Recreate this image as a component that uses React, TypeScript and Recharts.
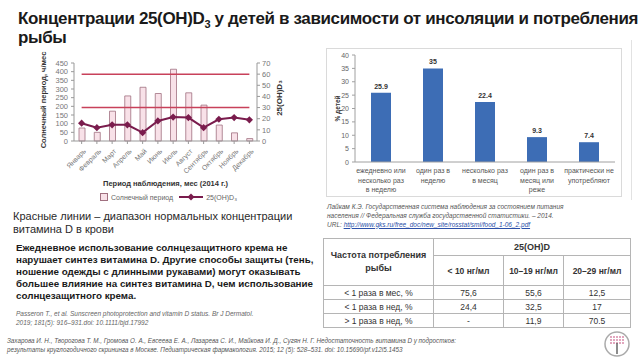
import {
  ComposedChart, Bar, Line, XAxis, YAxis, ReferenceLine,
} from 'recharts'

// Left chart: sunshine hours vs 25(OH)D3 by month (2014)
const months = ['Январь', 'Февраль', 'Март', 'Апрель', 'Май', 'Июнь', 'Июль', 'Август', 'Сентябрь', 'Октябрь', 'Ноябрь', 'Декабрь']
const sunHours = [75, 50, 172, 260, 310, 274, 414, 278, 207, 92, 47, 14]
const vitD = [16, 12, 14.5, 14.5, 7.5, 18, 21.5, 21, 12, 19.5, 21, 19]
const normLimits = [30, 60]
const sunTicks = [0, 50, 100, 150, 200, 250, 300, 350, 400, 450]
const vitTicks = [0, 10, 20, 30, 40, 50, 60, 70]

// Right chart: fish consumption frequency, % of children
const fishCats = [
  'ежедневно или\nнесколько раз\nв неделю',
  'один раз в\nнеделю',
  'несколько раз\nв месяц',
  'один раз в\nмесяц или\nреже',
  'практически не\nупотребляют',
]
const fishPct = [25.9, 35, 22.4, 9.3, 7.4]
const pctTicks = [0, 5, 10, 15, 20, 25, 30, 35, 40]

// Table
const tableCols = ['< 10 нг/мл', '10–19 нг/мл', '20–29 нг/мл']
const tableRows = ['< 1 раза в мес, %', '< 1 раза в нед, %', '> 1 раза в нед, %']
const tableVals = [
  ['75,6', '55,6', '12,5'],
  ['24,4', '32,5', '17'],
  ['-', '11,9', '70.5'],
]

const monthData = months.map((m, i) => ({ m, sun: sunHours[i], vit: vitD[i] }))
const fishData = fishCats.map((c, i) => ({ c, v: fishPct[i] }))

const LINE_COLOR = '#7a1c4d'
const NORM_COLOR = '#c8415a'
const BAR_BLUE = '#3d6db5'
const PCT_AXIS_W = 29

const num = (v: any, d: number) => (typeof v === 'number' && isFinite(v) ? v : d)

const Diamond = (props: any) => {
  const { cx, cy } = props
  if (cx == null || cy == null) return null
  const r = 3.6
  return <polygon points={`${cx},${cy - r} ${cx + r},${cy} ${cx},${cy + r} ${cx - r},${cy}`} fill={LINE_COLOR} />
}

const MonthTick = (props: any) => {
  const { x, y, payload } = props
  return (
    <text x={x + 3} y={y + 4} transform={`rotate(-45, ${x + 3}, ${y + 4})`} textAnchor="end"
      fontSize={7} fill="#777" dominantBaseline="central">
      {payload.value}
    </text>
  )
}

const FishTick = (props: any) => {
  const { x, y, payload } = props
  const lines = String(payload.value).split('\n')
  return (
    <text x={x} y={y + 9} textAnchor="middle" fontSize={7} fill="#555">
      {lines.map((l, i) => (
        <tspan key={i} x={x} dy={i === 0 ? 0 : 9.6}>{l}</tspan>
      ))}
    </text>
  )
}

// % axis: tick values placed along the axis box that Recharts hands to the label
const PctAxisLabels = (props: any) => {
  const vb = props.viewBox || {}
  const top = num(vb.y, 7)
  const h = num(vb.height, 107)
  const right = PCT_AXIS_W
  const max = pctTicks[pctTicks.length - 1]
  return (
    <g>
      {pctTicks.map(t => {
        const ty = top + h * (1 - t / max)
        return (
          <g key={t}>
            <line x1={right - 3} x2={right} y1={ty} y2={ty} stroke="#a0a0a0" />
            <text x={right - 6} y={ty} textAnchor="end" dominantBaseline="central" fontSize={7} fill="#666">{t}</text>
          </g>
        )
      })}
      <line x1={right} x2={right} y1={top} y2={top + h} stroke="#a0a0a0" />
      <text x={11} y={top + h / 2} transform={`rotate(-90, 11, ${top + h / 2})`} textAnchor="middle"
        dominantBaseline="central" fontSize={6.5} fontWeight={700} fill="#333">
        % детей
      </text>
    </g>
  )
}

const cell: any = {
  border: '1px solid #b5b5b5',
  padding: 0,
  textAlign: 'center',
  verticalAlign: 'middle',
  color: '#333',
}

export default function App() {
  return (
    <div style={{
      position: 'absolute', left: 0, top: 0, width: 640, height: 360,
      background: '#fff', overflow: 'hidden',
      fontFamily: '"Liberation Sans", Arial, sans-serif',
    }}>
      {/* Title */}
      <div style={{
        position: 'absolute', left: 18, top: 9, fontSize: 17, fontWeight: 700,
        lineHeight: '19px', color: '#1a1a1a', whiteSpace: 'nowrap', letterSpacing: -0.35,
      }}>
        Концентрации 25(OH)D<sub style={{ fontSize: 11, lineHeight: 0 }}>3</sub> у детей в зависимости от инсоляции и потребления<br />рыбы
      </div>

      {/* Left chart */}
      <div style={{ position: 'absolute', left: 0, top: 50 }}>
        <ComposedChart width={300} height={160} data={monthData}
          margin={{ top: 13, right: 0, bottom: 0, left: 0 }}>
          <XAxis dataKey="m" height={69} interval={0} tick={<MonthTick />}
            axisLine={{ stroke: '#999' }} tickLine={{ stroke: '#999' }} tickSize={3}
            label={{
              value: 'Период наблюдения, мес (2014 г.)', position: 'insideBottom', offset: 24,
              style: { fontSize: 7.5, fontWeight: 700, fill: '#333' },
            }} />
          <YAxis yAxisId="left" width={74} domain={[0, 450]} ticks={sunTicks} interval={0}
            tick={{ fontSize: 7.5, fill: '#777' }} axisLine={{ stroke: '#999' }}
            tickLine={{ stroke: '#999' }} tickSize={3} tickMargin={3}
            label={{
              content: () => (
                <text x={43} y={50} transform="rotate(-90, 43, 50)" textAnchor="middle"
                  dominantBaseline="central" fontSize={7.5} fontWeight={700} fill="#333">
                  Солнечный период, ч/мес
                </text>
              ),
            }} />
          <YAxis yAxisId="right" orientation="right" width={43} domain={[0, 70]} ticks={vitTicks} interval={0}
            tick={{ fontSize: 7.5, fill: '#777' }} axisLine={{ stroke: '#999' }}
            tickLine={{ stroke: '#999' }} tickSize={3} tickMargin={2}
            label={{
              content: () => (
                <text x={279} y={48} transform="rotate(-90, 279, 48)" textAnchor="middle"
                  dominantBaseline="central" fontSize={8} fontWeight={700} fill="#333">
                  25(OH)D₃
                </text>
              ),
            }} />
          <Bar yAxisId="left" dataKey="sun" barSize={6} fill="#f8e1e8" stroke="#a07080"
            strokeWidth={0.8} isAnimationActive={false} />
          {normLimits.map(v => (
            <ReferenceLine key={v} yAxisId="right" stroke={NORM_COLOR} strokeWidth={1.5}
              segment={[{ x: months[0], y: v }, { x: months[months.length - 1], y: v }]} />
          ))}
          <Line yAxisId="right" dataKey="vit" stroke={LINE_COLOR} strokeWidth={2}
            dot={<Diamond />} activeDot={false} isAnimationActive={false} />
        </ComposedChart>
      </div>

      {/* Left chart legend */}
      <div style={{
        position: 'absolute', left: 100, top: 192, fontSize: 7, color: '#666',
        display: 'flex', alignItems: 'center', whiteSpace: 'nowrap',
      }}>
        <span style={{ width: 6, height: 6, border: '1px solid #a07080', background: '#f8e1e8', marginRight: 3 }} />
        Солнечный период
        <svg width={24} height={10} style={{ marginLeft: 6, marginRight: 3 }}>
          <line x1={0} y1={5} x2={24} y2={5} stroke={LINE_COLOR} strokeWidth={2} />
          <polygon points="12,1.5 15.5,5 12,8.5 8.5,5" fill={LINE_COLOR} />
        </svg>
        25(OH)D₃
      </div>

      {/* Right chart */}
      <div style={{
        position: 'absolute', left: 326, top: 48, width: 296, height: 149,
        border: '1px solid #dadada', boxSizing: 'border-box',
      }} />
      <div style={{ position: 'absolute', left: 326, top: 48 }}>
        <ComposedChart width={296} height={149} data={fishData}
          margin={{ top: 7, right: 7, bottom: 0, left: 0 }}>
          <XAxis dataKey="c" height={35} interval={0} tick={<FishTick />}
            axisLine={{ stroke: '#a0a0a0' }} tickLine={false} tickSize={0} tickMargin={2} />
          <YAxis yAxisId="pct" width={PCT_AXIS_W} domain={[0, 40]} ticks={pctTicks} tick={false}
            axisLine={false} tickLine={false}
            label={{ content: (p: any) => <PctAxisLabels {...p} /> }} />
          <Bar yAxisId="pct" dataKey="v" barSize={20} fill={BAR_BLUE} isAnimationActive={false}
            label={{ position: 'top', offset: 4, fontSize: 7, fontWeight: 700, fill: '#333' }} />
        </ComposedChart>
      </div>
      <div style={{ position: 'absolute', left: 631, top: 40, width: 1, height: 160, background: '#e2e2e2' }} />

      {/* Right source */}
      <div style={{
        position: 'absolute', left: 327, top: 201.5, fontSize: 6.5, lineHeight: '9px',
        fontStyle: 'italic', color: '#555', whiteSpace: 'nowrap',
      }}>
        Лайкам К.Э. Государственная система наблюдения за состоянием питания<br />
        населения  // Федеральная служба государственной статистики. – 2014.<br />
        URL: <span style={{ color: '#2b4fa8', textDecoration: 'underline' }}>http://www.gks.ru/free_doc/new_site/rosstat/smi/food_1-06_2.pdf</span>
      </div>

      {/* Table */}
      <table style={{
        position: 'absolute', left: 323, top: 238, width: 307, borderCollapse: 'collapse',
        fontSize: 8.5, tableLayout: 'fixed',
      }}>
        <colgroup>
          <col style={{ width: 110 }} />
          <col style={{ width: 70 }} />
          <col style={{ width: 60 }} />
          <col style={{ width: 67 }} />
        </colgroup>
        <tbody>
          <tr style={{ height: 17 }}>
            <td rowSpan={2} style={{ ...cell, fontWeight: 700, fontSize: 9, lineHeight: '13px' }}>
              Частота потребления<br />рыбы
            </td>
            <td colSpan={3} style={{ ...cell, fontWeight: 700, fontSize: 9 }}>25(OH)D</td>
          </tr>
          <tr style={{ height: 30 }}>
            {tableCols.map(c => (
              <td key={c} style={{ ...cell, fontWeight: 700, fontSize: 8.5 }}>{c}</td>
            ))}
          </tr>
          {tableRows.map((r, i) => (
            <tr key={r} style={{ height: 14 }}>
              <td style={cell}>{r}</td>
              {tableVals[i].map((v, j) => (
                <td key={j} style={cell}>{v}</td>
              ))}
            </tr>
          ))}
        </tbody>
      </table>

      {/* Left texts */}
      <div style={{
        position: 'absolute', left: 13, top: 210, fontSize: 11, lineHeight: '13px',
        color: '#2a2a2a', whiteSpace: 'nowrap',
      }}>
        Красные линии – диапазон нормальных концентрации<br />витамина D в крови
      </div>
      <div style={{
        position: 'absolute', left: 16, top: 241.5, fontSize: 9.8, lineHeight: '12.2px',
        fontWeight: 700, color: '#1a1a1a', whiteSpace: 'nowrap',
      }}>
        Ежедневное использование солнцезащитного крема не<br />
        нарушает синтез витамина D.  Другие способы защиты (тень,<br />
        ношение одежды с длинными рукавами) могут оказывать<br />
        большее влияние на синтез витамина D, чем использование<br />
        солнцезащитного крема.
      </div>
      <div style={{
        position: 'absolute', left: 16, top: 308.5, fontSize: 6.5, lineHeight: '9px',
        fontStyle: 'italic', color: '#666', whiteSpace: 'nowrap',
      }}>
        Passeron T., et al. Sunscreen photoprotection and vitamin D status. Br J Dermatol.<br />
        2019; 181(5): 916–931.doi: 10.1111/bjd.17992
      </div>

      {/* Bottom source */}
      <div style={{
        position: 'absolute', left: 7, top: 335.5, fontSize: 6.3, lineHeight: '9.5px',
        fontStyle: 'italic', color: '#555', whiteSpace: 'nowrap',
      }}>
        Захарова И. Н., Творогова Т. М., Громова О. А., Евсеева Е. А., Лазарева С. И., Майкова И. Д., Сугян Н. Г. Недостаточность витамина D у подростков:<br />
        результаты круглогодичного скрининга в Москве. Педиатрическая фармакология. 2015; 12 (5): 528–531. doi: 10.15690/pf.v12i5.1453
      </div>

      {/* Logo */}
      <svg width={28} height={28} style={{ position: 'absolute', left: 603, top: 330 }}>
        <circle cx={14} cy={14} r={12} fill="none" stroke="#aaa" strokeWidth={1.5} />
        {[-6, -3, 0, 3, 6].map(dx => [-6, -3, 0].map(dy => (
          <circle key={`${dx}_${dy}`} cx={14 + dx} cy={13 + dy} r={1} fill="#d98aa8" />
        )))}
        <line x1={14} y1={13} x2={14} y2={24} stroke="#666" strokeWidth={1.5} />
      </svg>
    </div>
  )
}
